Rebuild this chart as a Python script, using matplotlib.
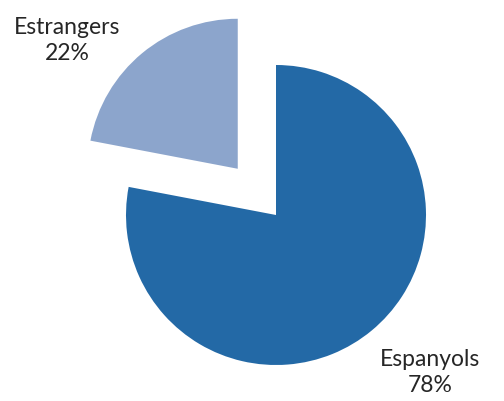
import matplotlib
matplotlib.use("Agg")
import matplotlib.pyplot as plt

labels = ["Espanyols", "Estrangers"]
values = [78, 22]
colors = ["#2369A6", "#8CA5CC"]
explode = [0, 0.4]

fig = plt.figure(figsize=(5.04, 4.01), dpi=100)
ax = fig.add_axes([0, 0, 1, 1])

ax.pie(values, colors=colors, explode=explode, startangle=90,
       counterclock=False, radius=1.0)

# label positions in data units (radius = 1)
label_pos = [(1.03, -1.05), (-1.39, 1.165)]
for lab, v, (x, y) in zip(labels, values, label_pos):
    ax.text(x, y, f"{lab}\n{v}%", ha="center", va="center",
            fontsize=16.5, family="Lato", color="#262626", linespacing=1.3)

ax.set_xlim(-276 / 150, 228 / 150)
ax.set_ylim(-186 / 150, 215 / 150)
ax.set_aspect("equal")
ax.axis("off")

plt.savefig("out.png", dpi=100)
